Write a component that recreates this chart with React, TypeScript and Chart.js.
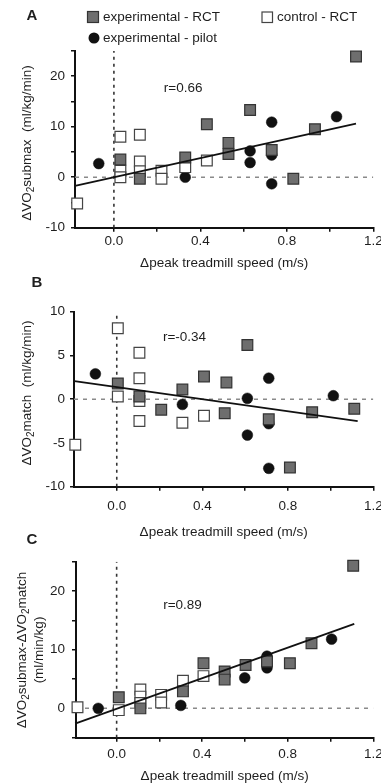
import React, { useEffect, useRef } from 'react';
import { Chart, registerables } from 'chart.js';

Chart.register(...registerables);

const FONT = "'Liberation Sans', Arial, Helvetica, sans-serif";

// ---------- shared axis / legend text ----------
const X_TICKS = [0, 0.2, 0.4, 0.6, 0.8, 1.0, 1.2];
const X_TICK_LABELS = ['0.0', '', '0.4', '', '0.8', '', '1.2'];
const X_TITLE = 'Δpeak treadmill speed (m/s)';
const LEGEND_LABELS = ['experimental - RCT', 'control - RCT', 'experimental - pilot'];

// ---------- Panel A: ΔVO2submax ----------
const A_EXP_RCT: [number, number][] = [
  [0.03, 3.5], [0.12, -0.3], [0.33, 3.9], [0.43, 10.5], [0.53, 6.8], [0.53, 4.6],
  [0.63, 13.3], [0.73, 5.4], [0.83, -0.3], [0.93, 9.5], [1.12, 23.9],
];
const A_CTRL_RCT: [number, number][] = [
  [-0.17, -5.2], [0.03, 8.0], [0.03, 1.3], [0.03, 0.0], [0.12, 8.4], [0.12, 3.1],
  [0.12, 1.2], [0.22, 1.3], [0.22, -0.3], [0.33, 2.0], [0.43, 3.3],
];
const A_PILOT: [number, number][] = [
  [-0.07, 2.7], [0.33, 0.0], [0.63, 5.2], [0.63, 2.9], [0.73, 10.9], [0.73, 4.4],
  [0.73, -1.3], [1.03, 12.0],
];
const A_FIT: [number, number][] = [[-0.18, -1.7], [1.12, 10.6]];
const A_R_TEXT = 'r=0.66';
const A_R_POS: [number, number] = [0.32, 17.7];

// ---------- Panel B: ΔVO2match ----------
const B_EXP_RCT: [number, number][] = [
  [0.005, 1.8], [0.106, 0.3], [0.208, -1.2], [0.307, 1.1], [0.408, 2.6], [0.513, 1.9],
  [0.505, -1.6], [0.611, 6.2], [0.711, -2.3], [0.81, -7.8], [0.914, -1.5], [1.111, -1.1],
];
const B_CTRL_RCT: [number, number][] = [
  [-0.194, -5.2], [0.005, 8.1], [0.005, 0.3], [0.106, 5.3], [0.106, 2.4], [0.106, -0.2],
  [0.106, -2.5], [0.307, -2.7], [0.408, -1.9],
];
const B_PILOT: [number, number][] = [
  [-0.1, 2.9], [0.307, -0.6], [0.611, 0.1], [0.611, -4.1], [0.711, 2.4], [0.711, -2.8],
  [0.711, -7.9], [1.013, 0.4],
];
const B_FIT: [number, number][] = [[-0.198, 2.06], [1.127, -2.5]];
const B_R_TEXT = 'r=-0.34';
const B_R_POS: [number, number] = [0.317, 7.1];

// ---------- Panel C: ΔVO2submax-ΔVO2match ----------
const C_EXP_RCT: [number, number][] = [
  [0.01, 1.9], [0.111, 0.0], [0.31, 2.9], [0.406, 7.7], [0.505, 6.3], [0.505, 4.9],
  [0.603, 7.4], [0.703, 8.0], [0.81, 7.7], [0.911, 11.1], [1.106, 24.3],
];
const C_CTRL_RCT: [number, number][] = [
  [-0.183, 0.2], [0.01, -0.3], [0.111, 3.2], [0.111, 2.0], [0.111, 0.9], [0.208, 2.3],
  [0.208, 1.0], [0.31, 4.7], [0.406, 5.5],
];
const C_PILOT: [number, number][] = [
  [-0.086, 0.0], [0.3, 0.5], [0.599, 5.2], [0.703, 8.9], [0.703, 6.9], [1.005, 11.8],
];
const C_FIT: [number, number][] = [[-0.194, -2.6], [1.111, 14.4]];
const C_R_TEXT = 'r=0.89';
const C_R_POS: [number, number] = [0.308, 17.6];

type Seg = [string, boolean];

interface Panel {
  letter: string;
  exp: [number, number][];
  ctrl: [number, number][];
  pilot: [number, number][];
  fit: [number, number][];
  rText: string;
  rPos: [number, number];
  xMin: number;
  xMax: number;
  yMin: number;
  yMax: number;
  yStep: number;
  yLabelStep: number;
  yTitle: Seg[][];
  // layout
  left: number;
  right: number;
  top: number;
  bottom: number;
  yTickPad: number;
  xTickPad: number;
  yTitleX: number[];
  yTitleY: number;
  xTitleY: number;
  letterPos: [number, number];
  legend: boolean;
}

const CANVAS_W = 400;
const CANVAS_H = 783;

const PANELS: Panel[] = [
  {
    letter: 'A', exp: A_EXP_RCT, ctrl: A_CTRL_RCT, pilot: A_PILOT, fit: A_FIT,
    rText: A_R_TEXT, rPos: A_R_POS,
    xMin: -0.18, xMax: 1.2, yMin: -10, yMax: 25, yStep: 5, yLabelStep: 10,
    yTitle: [[['ΔVO', false], ['2', true], ['submax  (ml/kg/min)', false]]],
    left: 75, right: 373.3, top: 51, bottom: 227.7,
    yTickPad: 6, xTickPad: 1, yTitleX: [27], yTitleY: 143, xTitleY: 263,
    letterPos: [32, 16], legend: true,
  },
  {
    letter: 'B', exp: B_EXP_RCT, ctrl: B_CTRL_RCT, pilot: B_PILOT, fit: B_FIT,
    rText: B_R_TEXT, rPos: B_R_POS,
    xMin: -0.2, xMax: 1.2, yMin: -10, yMax: 10, yStep: 5, yLabelStep: 5,
    yTitle: [[['ΔVO', false], ['2', true], ['match  (ml/kg/min)', false]]],
    left: 74, right: 373.3, top: 311.7, bottom: 486.7,
    yTickPad: 5, xTickPad: 7, yTitleX: [27], yTitleY: 393, xTitleY: 532,
    letterPos: [37, 283], legend: false,
  },
  {
    letter: 'C', exp: C_EXP_RCT, ctrl: C_CTRL_RCT, pilot: C_PILOT, fit: C_FIT,
    rText: C_R_TEXT, rPos: C_R_POS,
    xMin: -0.19, xMax: 1.2, yMin: -5, yMax: 25, yStep: 5, yLabelStep: 10,
    yTitle: [
      [['ΔVO', false], ['2', true], ['submax-ΔVO', false], ['2', true], ['match', false]],
      [['(ml/min/kg)', false]],
    ],
    left: 76, right: 373.3, top: 561.7, bottom: 737.7,
    yTickPad: 7, xTickPad: 4, yTitleX: [22, 39], yTitleY: 650, xTitleY: 776,
    letterPos: [32, 540], legend: false,
  },
];

const TEXT_COLOR = '#1e1e1e';
const MAIN_FONT = `13.5px ${FONT}`;
const SUB_FONT = `10px ${FONT}`;
const GRAY_FILL = '#6e6e6e';
const GRAY_EDGE = '#333';
const WHITE_EDGE = '#444';

function drawRotated(ctx: CanvasRenderingContext2D, segs: Seg[], cx: number, cy: number) {
  ctx.save();
  ctx.translate(cx, cy);
  ctx.rotate(-Math.PI / 2);
  const widths = segs.map(([t, s]) => {
    ctx.font = s ? SUB_FONT : MAIN_FONT;
    return ctx.measureText(t).width;
  });
  const total = widths.reduce((a, b) => a + b, 0);
  let x0 = -total / 2;
  ctx.textAlign = 'left';
  ctx.textBaseline = 'middle';
  segs.forEach(([t, s], i) => {
    ctx.font = s ? SUB_FONT : MAIN_FONT;
    ctx.fillText(t, x0, s ? 4 : 0);
    x0 += widths[i];
  });
  ctx.restore();
}

function drawLegend(ctx: CanvasRenderingContext2D) {
  ctx.save();
  ctx.fillStyle = GRAY_FILL;
  ctx.strokeStyle = GRAY_EDGE;
  ctx.lineWidth = 1.2;
  ctx.fillRect(87.5, 11.5, 11, 11);
  ctx.strokeRect(87.5, 11.5, 11, 11);
  ctx.fillStyle = '#fff';
  ctx.strokeStyle = WHITE_EDGE;
  ctx.fillRect(262, 12, 10.5, 10.5);
  ctx.strokeRect(262, 12, 10.5, 10.5);
  ctx.fillStyle = '#111';
  ctx.beginPath();
  ctx.arc(94, 38, 5.5, 0, Math.PI * 2);
  ctx.fill();
  ctx.fillStyle = TEXT_COLOR;
  ctx.font = MAIN_FONT;
  ctx.textAlign = 'left';
  ctx.textBaseline = 'middle';
  ctx.fillText(LEGEND_LABELS[0], 103, 17.5);
  ctx.fillText(LEGEND_LABELS[1], 277, 17.5);
  ctx.fillText(LEGEND_LABELS[2], 103, 38);
  ctx.restore();
}

function makeTextPlugin(p: Panel) {
  return {
    id: 'panelText' + p.letter,
    afterDraw(chart: any) {
      const ctx: CanvasRenderingContext2D = chart.ctx;
      const xs = chart.scales.x;
      const ys = chart.scales.y;
      ctx.save();
      ctx.fillStyle = TEXT_COLOR;
      ctx.textAlign = 'center';
      ctx.textBaseline = 'middle';
      ctx.font = `bold 15px ${FONT}`;
      ctx.fillText(p.letter, p.letterPos[0], p.letterPos[1]);
      ctx.font = MAIN_FONT;
      ctx.fillText(p.rText, xs.getPixelForValue(p.rPos[0]), ys.getPixelForValue(p.rPos[1]));
      ctx.fillText(X_TITLE, (p.left + p.right) / 2, p.xTitleY);
      p.yTitle.forEach((segs, i) => drawRotated(ctx, segs, p.yTitleX[i], p.yTitleY));
      if (p.legend) drawLegend(ctx);
      ctx.restore();
    },
  };
}

const toXY = (arr: [number, number][]) => arr.map(([x, y]) => ({ x, y }));

function PanelChart({ p }: { p: Panel }) {
  const ref = useRef<HTMLCanvasElement>(null);
  useEffect(() => {
    if (!ref.current) return;
    const X_SCALE_H = 40;
    const chart = new Chart(ref.current, {
      type: 'scatter',
      data: {
        datasets: [
          {
            label: 'fit',
            data: toXY(p.fit),
            showLine: true,
            pointRadius: 0,
            borderColor: '#111',
            borderWidth: 1.8,
            fill: false,
            clip: false,
          } as any,
          {
            label: LEGEND_LABELS[0],
            data: toXY(p.exp),
            pointStyle: 'rect',
            pointRadius: 7.6,
            backgroundColor: GRAY_FILL,
            borderColor: GRAY_EDGE,
            borderWidth: 1.2,
            clip: false,
          } as any,
          {
            label: LEGEND_LABELS[1],
            data: toXY(p.ctrl),
            pointStyle: 'rect',
            pointRadius: 7.6,
            backgroundColor: '#ffffff',
            borderColor: WHITE_EDGE,
            borderWidth: 1.2,
            clip: false,
          } as any,
          {
            label: LEGEND_LABELS[2],
            data: toXY(p.pilot),
            pointStyle: 'circle',
            pointRadius: 5.4,
            backgroundColor: '#111',
            borderColor: '#111',
            borderWidth: 0.5,
            clip: false,
          } as any,
          {
            label: 'x0',
            data: [{ x: 0, y: p.yMin }, { x: 0, y: p.yMax }],
            showLine: true,
            pointRadius: 0,
            borderColor: '#333',
            borderWidth: 1.6,
            borderDash: [3, 4],
            fill: false,
          } as any,
          {
            label: 'y0',
            data: [{ x: p.xMin, y: 0 }, { x: p.xMax, y: 0 }],
            showLine: true,
            pointRadius: 0,
            borderColor: '#8a8a8a',
            borderWidth: 1.5,
            borderDash: [4, 5],
            fill: false,
          } as any,
        ],
      },
      options: {
        animation: false,
        responsive: false,
        devicePixelRatio: 1,
        events: [],
        layout: {
          padding: {
            left: 0,
            top: p.top,
            right: CANVAS_W - p.right,
            bottom: CANVAS_H - p.bottom - X_SCALE_H,
          },
        },
        plugins: {
          legend: { display: false },
          tooltip: { enabled: false },
          title: { display: false },
        },
        scales: {
          x: {
            type: 'linear',
            position: 'bottom',
            min: p.xMin,
            max: p.xMax,
            afterBuildTicks: (s: any) => {
              s.ticks = X_TICKS.map((v) => ({ value: v }));
            },
            afterFit: (s: any) => {
              s.height = X_SCALE_H;
            },
            ticks: {
              autoSkip: false,
              maxRotation: 0,
              padding: p.xTickPad,
              color: TEXT_COLOR,
              font: { family: FONT, size: 13.5 },
              callback: (_v: any, i: number) => X_TICK_LABELS[i],
            },
            grid: {
              display: true,
              drawOnChartArea: false,
              drawTicks: true,
              tickLength: 4,
              color: '#111',
              lineWidth: 1.5,
            },
            border: { display: true, color: '#111', width: 2 },
          },
          y: {
            type: 'linear',
            position: 'left',
            min: p.yMin,
            max: p.yMax,
            afterFit: (s: any) => {
              s.width = p.left;
            },
            ticks: {
              stepSize: p.yStep,
              padding: p.yTickPad,
              color: TEXT_COLOR,
              font: { family: FONT, size: 13.5 },
              callback: (v: any) => (Number(v) % p.yLabelStep === 0 ? String(v) : ''),
            },
            grid: {
              display: true,
              drawOnChartArea: false,
              drawTicks: true,
              tickLength: 4,
              color: '#111',
              lineWidth: 1.5,
            },
            border: { display: true, color: '#111', width: 2 },
          },
        },
      } as any,
      plugins: [makeTextPlugin(p)],
    });
    return () => chart.destroy();
  }, [p]);
  return (
    <canvas
      ref={ref}
      width={CANVAS_W}
      height={CANVAS_H}
      style={{ position: 'absolute', left: 0, top: 0, width: CANVAS_W, height: CANVAS_H }}
    />
  );
}

export default function App() {
  return (
    <div
      style={{
        position: 'absolute',
        left: 0,
        top: 0,
        width: 381,
        height: 783,
        overflow: 'hidden',
        background: '#ffffff',
      }}
    >
      {PANELS.map((p) => (
        <PanelChart key={p.letter} p={p} />
      ))}
    </div>
  );
}
